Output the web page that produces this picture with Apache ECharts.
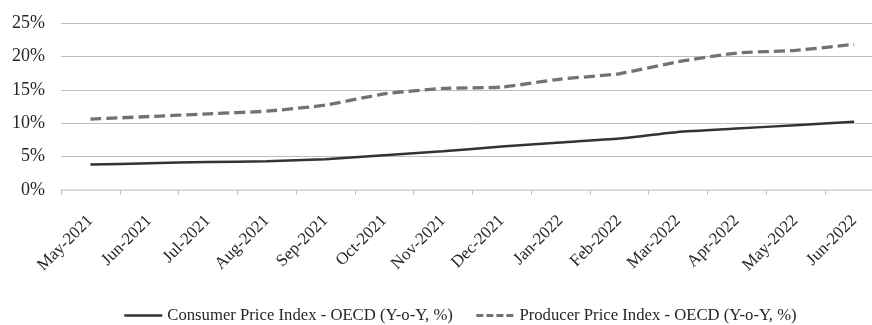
<!DOCTYPE html>
<html>
<head>
<meta charset="utf-8">
<script src="https://cdn.jsdelivr.net/npm/echarts@6/dist/echarts.min.js"></script>
<style>
  html, body { margin: 0; padding: 0; background: #ffffff; overflow: hidden; }
  /* plot area runs slightly past the right edge of the window */
  #chart { width: 900px; height: 325px; }
</style>
</head>
<body>
<div id="chart"></div>
<script>
// Monthly year-over-year inflation, OECD
const months = ['May-2021', 'Jun-2021', 'Jul-2021', 'Aug-2021', 'Sep-2021', 'Oct-2021', 'Nov-2021',
  'Dec-2021', 'Jan-2022', 'Feb-2022', 'Mar-2022', 'Apr-2022', 'May-2022', 'Jun-2022'];
const cpi = [3.8, 4.0, 4.2, 4.3, 4.6, 5.2, 5.8, 6.5, 7.1, 7.7, 8.7, 9.2, 9.7, 10.2];
const ppi = [10.6, 11.0, 11.4, 11.8, 12.7, 14.4, 15.2, 15.4, 16.6, 17.4, 19.2, 20.5, 20.9, 21.8];
const yTicks = { min: 0, max: 25, step: 5 };
const cpiName = 'Consumer Price Index - OECD (Y-o-Y, %)';
const ppiName = 'Producer Price Index - OECD (Y-o-Y, %)';

const FONT = '"Liberation Serif", "Times New Roman", serif';
const TEXT = '#262626';

const chart = echarts.init(document.getElementById('chart'), null, { renderer: 'canvas' });
chart.setOption({
  animation: false,
  backgroundColor: '#ffffff',
  textStyle: { fontFamily: FONT },
  grid: { left: 61, top: 23, width: 822.5, height: 167, containLabel: false },
  legend: {
    top: 307,
    left: 123,
    padding: 0,
    itemWidth: 38,
    itemHeight: 10,
    itemGap: 22,
    textStyle: { fontFamily: FONT, fontSize: 16.7, color: TEXT },
    itemStyle: { opacity: 0 },
    data: [
      { name: cpiName, lineStyle: { color: '#333333', width: 2.5, type: 'solid' } },
      { name: ppiName, lineStyle: { color: '#767171', width: 3, type: [7, 3] } }
    ]
  },
  xAxis: {
    type: 'category',
    data: months,
    boundaryGap: true,
    axisLine: { lineStyle: { color: '#d9d9d9', width: 1.5 } },
    axisTick: { show: true, length: 5, lineStyle: { color: '#bfbfbf' } },
    axisLabel: {
      rotate: 45,
      interval: 0,
      margin: 28,
      fontFamily: FONT,
      fontSize: 17,
      color: TEXT
    }
  },
  yAxis: {
    type: 'value',
    min: yTicks.min,
    max: yTicks.max,
    interval: yTicks.step,
    axisLine: { show: false },
    axisTick: { show: false },
    splitLine: { lineStyle: { color: '#bfbfbf', width: 1 } },
    axisLabel: {
      margin: 16,
      fontFamily: FONT,
      fontSize: 18,
      color: TEXT,
      formatter: v => v + '%'
    }
  },
  series: [
    {
      name: cpiName,
      type: 'line',
      data: cpi,
      symbol: 'none',
      smooth: 0.15,
      lineStyle: { color: '#333333', width: 2.5, type: 'solid' },
      itemStyle: { color: '#333333' }
    },
    {
      name: ppiName,
      type: 'line',
      data: ppi,
      symbol: 'none',
      smooth: 0.15,
      lineStyle: { color: '#767171', width: 3.3, type: [11, 5] },
      itemStyle: { color: '#767171' }
    }
  ]
});
</script>
</body>
</html>
